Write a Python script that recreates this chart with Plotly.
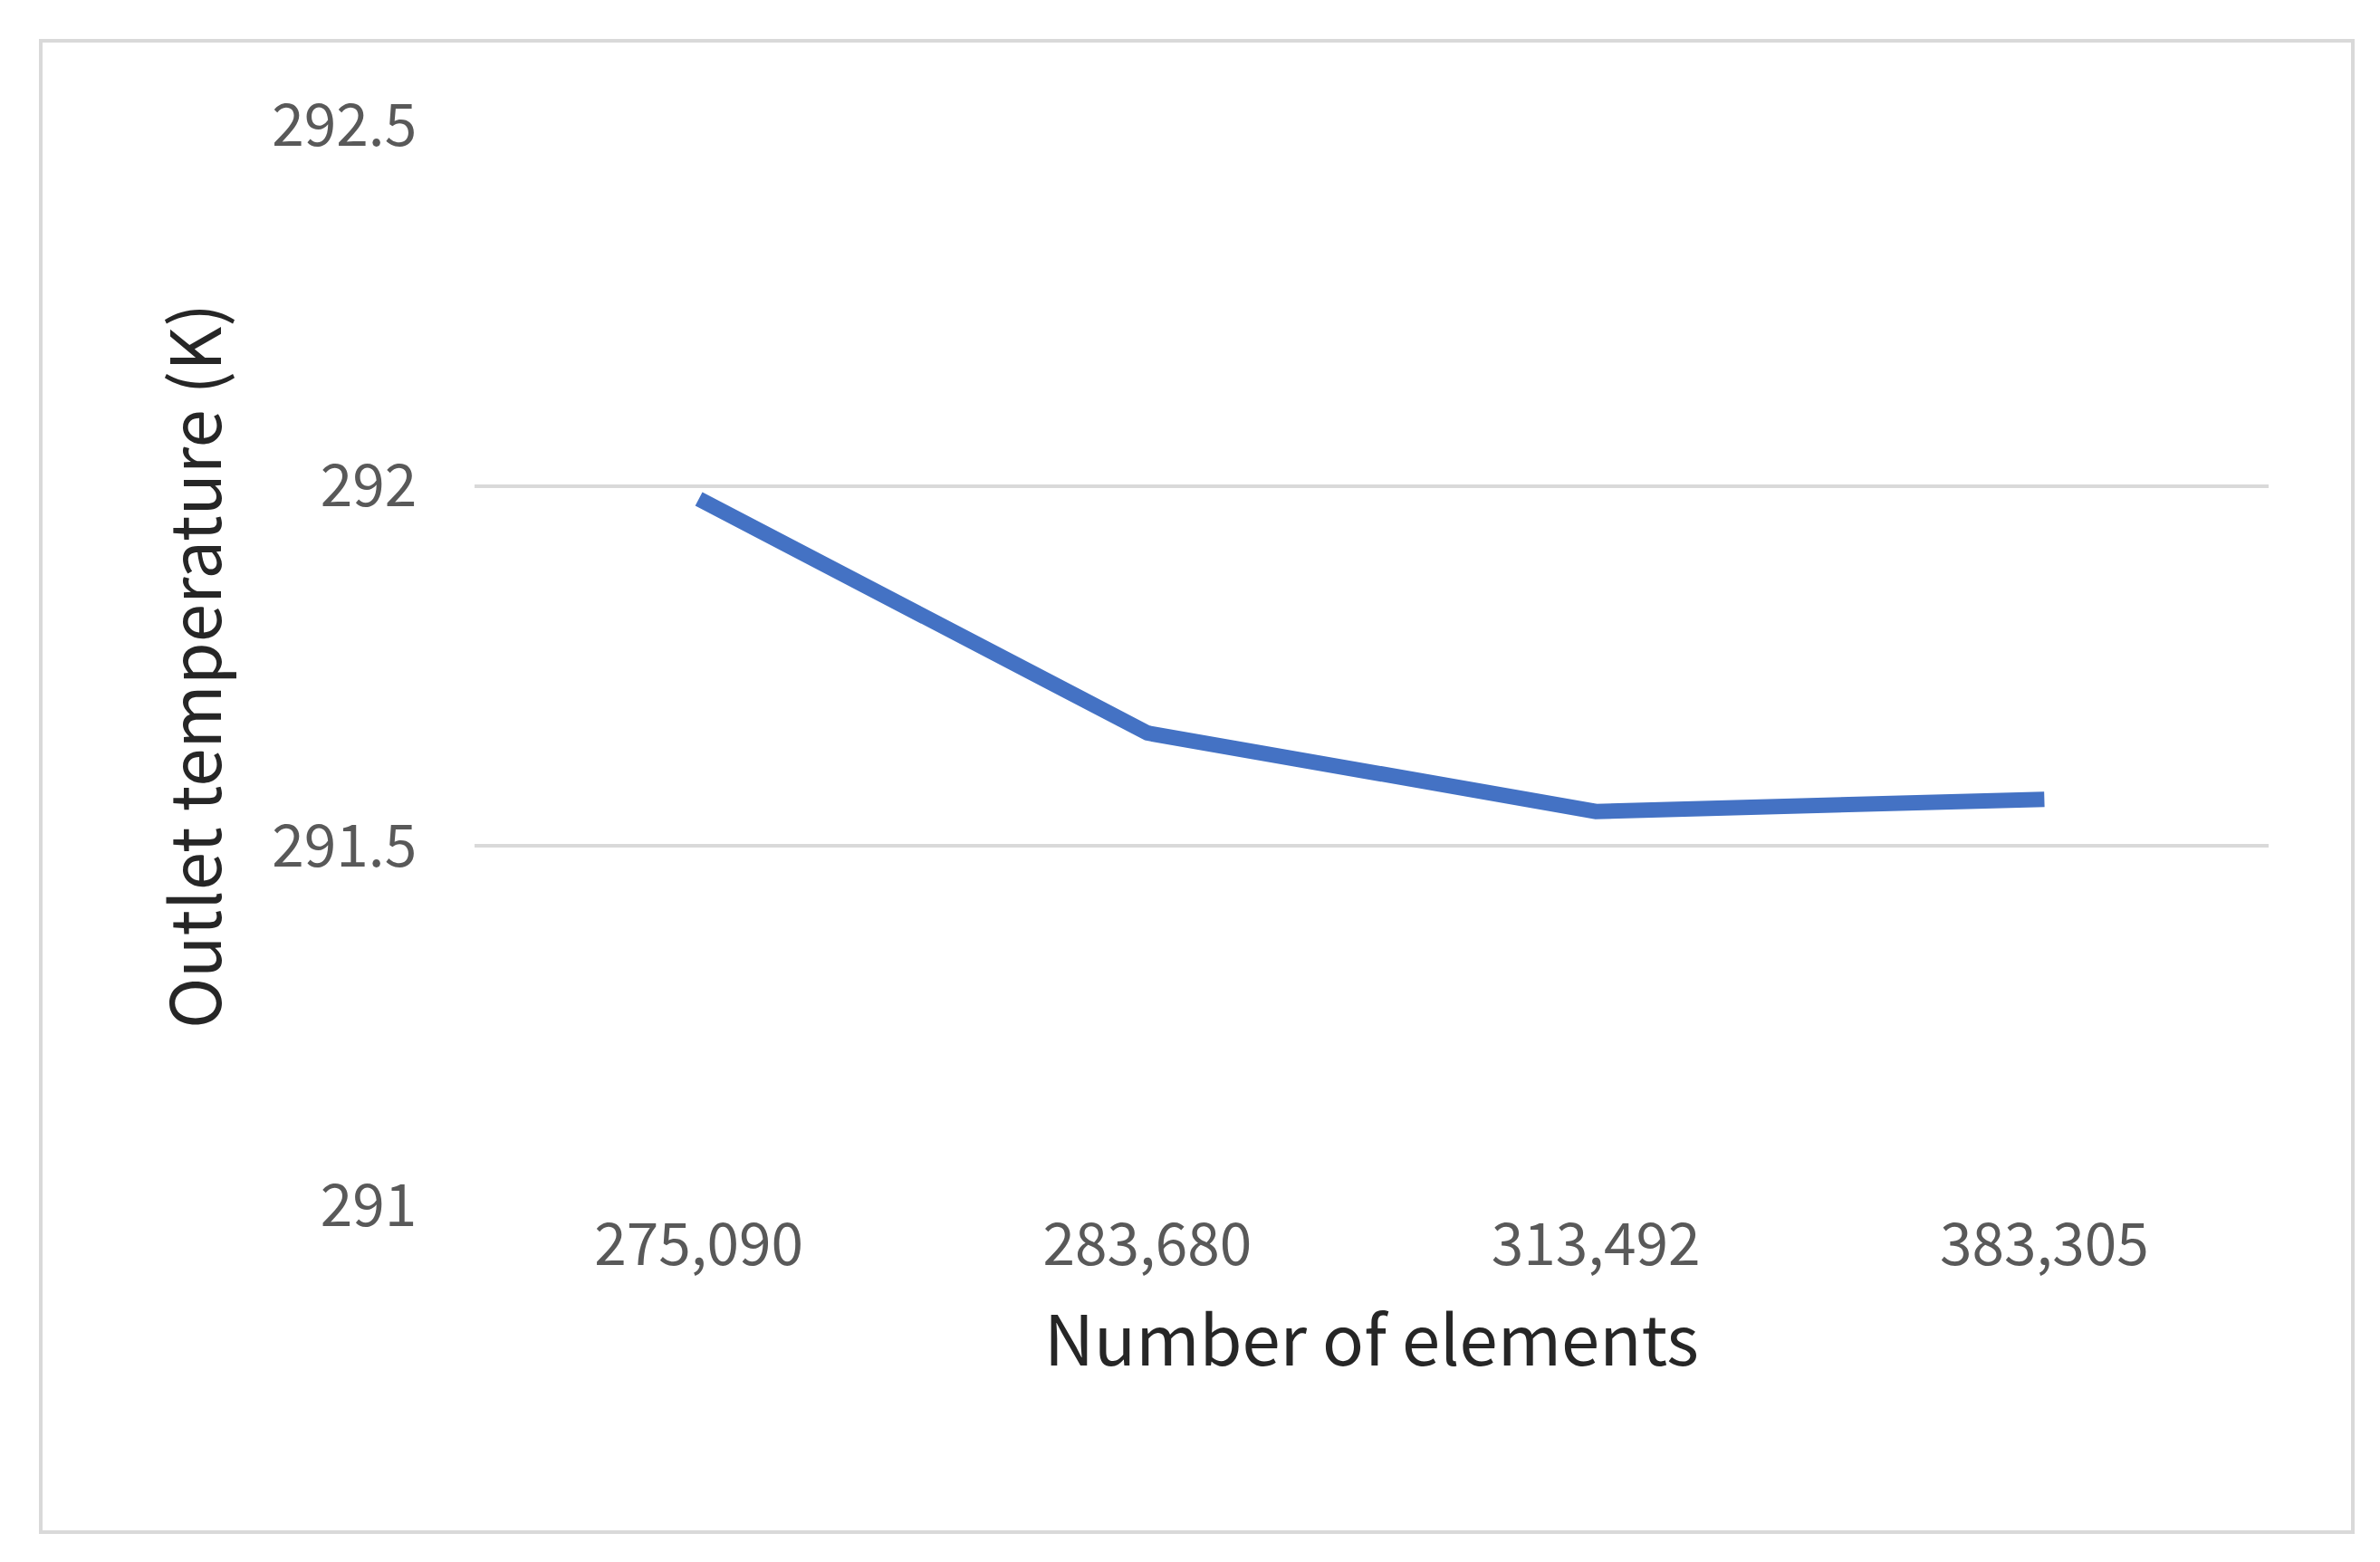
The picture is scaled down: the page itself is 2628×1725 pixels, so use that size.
import plotly.graph_objects as go

categories = ["275,090", "283,680", "313,492", "383,305"]
temps = [291.982, 291.657, 291.548, 291.565]
yticks = [291, 291.5, 292, 292.5]

W, H = 2628, 1725
fig = go.Figure(go.Scatter(x=categories, y=temps, mode="lines",
                           line=dict(color="#4472C4", width=17)))
font = "Noto Sans CJK SC"
fig.update_layout(
    width=W, height=H, paper_bgcolor="white", plot_bgcolor="white",
    margin=dict(l=516, r=W-2497, t=131, b=H-1324),
    showlegend=False, font=dict(family=font, color="#595959"),
)
fig.update_xaxes(type="category", range=[-0.5, 3.5], showgrid=False, zeroline=False,
                 tickfont=dict(size=64, color="#595959"), ticks="", ticklen=0,
                 title=dict(text="Number of elements", font=dict(size=76, color="#262626"), standoff=40))
fig.update_yaxes(range=[291, 292.5], tickvals=yticks, ticktext=["291", "291.5", "292", "292.5"],
                 showgrid=True, gridcolor="#d9d9d9", gridwidth=4, zeroline=False,
                 tickfont=dict(size=64, color="#595959"), ticks="outside", ticklen=50, tickcolor="white",
                 title=dict(text="Outlet temperature (K)", font=dict(size=76, color="#262626"), standoff=30))
fig.add_shape(type="rect", xref="paper", yref="paper",
              x0=(37-516)/(2497-516), x1=(2590-516)/(2497-516),
              y0=(1324-1684)/(1324-131), y1=(1324-37)/(1324-131),
              line=dict(color="#d9d9d9", width=4))
fig.write_html("out.html")
